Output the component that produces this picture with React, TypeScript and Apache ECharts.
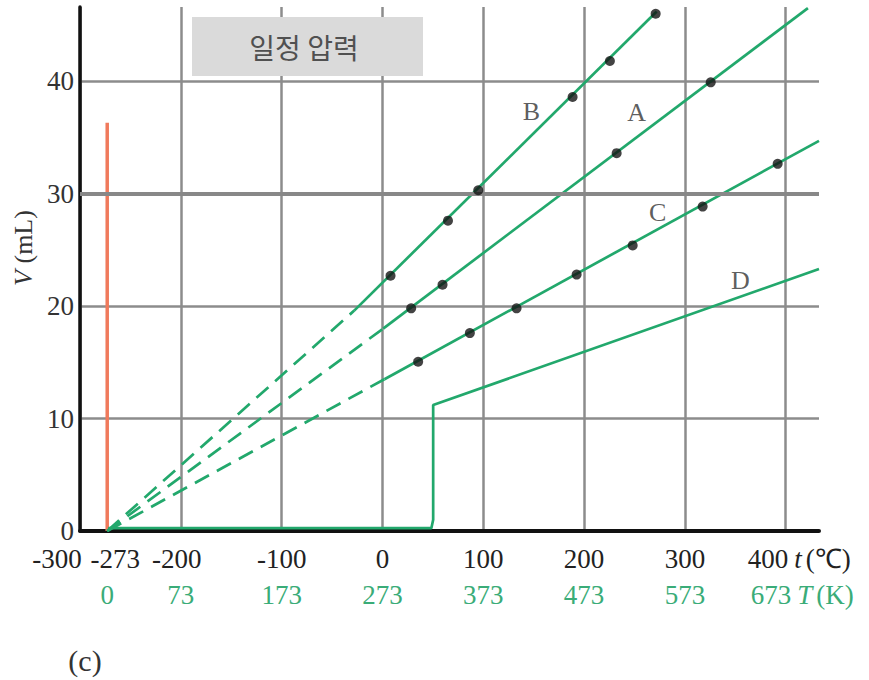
import React, { useEffect, useRef } from "react";
import * as echarts from "echarts";

// Axis ticks / labels
const X_LABEL_VALUES = [-273, -200, -100, 0, 100, 200, 300, 400];
const X_MIN_LABEL = [-300];
const K_LABEL_VALUES = [-273, -200, -100, 0, 100, 200, 300, 400];
const Y_LABEL_VALUES = [0, 10, 20, 30, 40];
const X_MIN = -300;
const X_MAX = 433;
const Y_MIN = 0;
const Y_MAX = 46.6;

// Absolute zero marker (°C, mL)
const ABS_ZERO_LINE = [[-273, 0], [-273, 36.3]];

// Gas B
const B_DASH = [[-273, 0], [-28, 19.6]];
const B_SOLID = [[-28, 19.6], [272, 46.2]];
const B_DOTS = [[8, 22.7], [65, 27.6], [95, 30.3], [188.6, 38.6], [225.6, 41.8], [271, 46.0]];

// Gas A
const A_DASH = [[-273, 0], [0.7, 18.0]];
const A_SOLID = [[0.7, 18.0], [422, 46.5]];
const A_DOTS = [[28.5, 19.8], [59.6, 21.9], [232.3, 33.6], [325.6, 39.9]];

// Gas C
const C_DASH = [[-273, 0], [2, 13.5]];
const C_SOLID = [[2, 13.5], [433, 34.7]];
const C_DOTS = [[35.4, 15.05], [86.7, 17.6], [133, 19.8], [192.6, 22.8], [248.2, 25.4], [317.6, 28.85], [392, 32.65]];

// Substance D (condensed, then gas)
const D_LINE = [[-272, 0.25], [48.5, 0.25], [50.3, 1.0], [50.3, 11.2], [433, 23.3]];

// Curve labels
const CURVE_LABELS = [[147.7, 37.3, "B"], [252, 37.2, "A"], [273, 28.3, "C"], [355, 22.3, "D"]];

const GREEN = "#22a86c";
const LABEL_GREEN = "#3aac78";
const SERIF = "'Liberation Serif', 'Times New Roman', serif";

export default function App() {
  const ref = useRef<HTMLDivElement>(null);

  useEffect(() => {
    if (!ref.current) return;
    const chart = echarts.init(ref.current, undefined, { renderer: "svg" });

    const tok = (c: string) => ({ fontFamily: SERIF, fontSize: 27, color: c });
    const pads: Record<string, any> = {};
    [4, 6, 8, 16, 27, 33, 46].forEach((w) => {
      pads["p" + w] = { width: w, fontSize: 10 };
    });

    const greenLine = (data: number[][], dashed: boolean) => ({
      type: "line",
      data,
      symbol: "none",
      z: 3,
      lineStyle: { color: GREEN, width: 2.7, type: dashed ? [16, 9] : "solid" },
    });

    const dots = (data: number[][]) => ({
      type: "scatter",
      data,
      symbol: "circle",
      symbolSize: 10,
      z: 5,
      itemStyle: { color: "#141414" },
    });

    const labelAxisBase = {
      type: "value",
      min: X_MIN,
      max: X_MAX,
      interval: 100,
      position: "bottom",
      axisLine: { show: false },
      axisTick: { show: false },
      splitLine: { show: false },
    };

    chart.setOption({
      animation: false,
      grid: { left: 80, right: 50, top: 7, bottom: 149, containLabel: false, outerBoundsMode: "none" },
      xAxis: [
        {
          type: "value",
          min: X_MIN,
          max: X_MAX,
          interval: 100,
          position: "bottom",
          axisLine: { show: true, onZero: false, lineStyle: { color: "#111", width: 4 } },
          axisTick: { show: false },
          splitLine: { show: true, showMaxLine: false, lineStyle: { color: "#8c8c8c", width: 2.5 } },
          axisLabel: {
            customValues: X_LABEL_VALUES,
            showMinLabel: true,
            showMaxLabel: true,
            hideOverlap: false,
            margin: 14,
            formatter: (v: number) => {
              if (v === -273) return "{p16| }{n|-273}";
              if (v === -200) return "{n|-200}{p8| }";
              if (v === 400) return "{p27| }{n|400}{p6| }{it|t}{p4| }{n|(℃)}";
              return "{n|" + v + "}";
            },
            rich: {
              n: tok("#222"),
              it: { ...tok("#222"), fontStyle: "italic" },
              ...pads,
            },
          },
        },
        {
          ...labelAxisBase,
          axisLabel: {
            customValues: X_MIN_LABEL,
            showMinLabel: true,
            margin: 14,
            formatter: (v: number) => "{n|" + v + "}{p46| }",
            rich: { n: tok("#222"), ...pads },
          },
        },
        {
          ...labelAxisBase,
          offset: 36,
          axisLabel: {
            customValues: K_LABEL_VALUES,
            showMinLabel: true,
            showMaxLabel: true,
            hideOverlap: false,
            margin: 14,
            formatter: (v: number) => {
              const k = String(Math.round(v + 273));
              if (v === 400) return "{p33| }{g|" + k + "}{p6| }{gi|T}{p4| }{g|(K)}";
              return "{g|" + k + "}";
            },
            rich: {
              g: tok(LABEL_GREEN),
              gi: { ...tok(LABEL_GREEN), fontStyle: "italic" },
              ...pads,
            },
          },
        },
      ],
      yAxis: {
        type: "value",
        min: Y_MIN,
        max: Y_MAX,
        interval: 10,
        axisLine: { show: true, onZero: false, lineStyle: { color: "#111", width: 3.5 } },
        axisTick: { show: false },
        splitLine: { show: true, showMaxLine: false, lineStyle: { color: "#8c8c8c", width: 2.5 } },
        axisLabel: {
          customValues: Y_LABEL_VALUES,
          showMinLabel: true,
          fontFamily: SERIF,
          fontSize: 27,
          color: "#333",
          margin: 6,
        },
        name: "{i|V} (mL)",
        nameLocation: "middle",
        nameGap: 20,
        nameRotate: 90,
        nameTextStyle: {
          fontFamily: SERIF,
          fontSize: 26,
          color: "#333",
          padding: [0, 0, 0, 42],
          rich: { i: { fontFamily: SERIF, fontSize: 26, color: "#333", fontStyle: "italic" } },
        },
      },
      graphic: [
        {
          type: "rect",
          shape: { x: 192, y: 17, width: 231, height: 59 },
          style: { fill: "#dadada" },
          z: 10,
        },
        {
          type: "text",
          x: 304,
          y: 47,
          style: {
            text: "일정 압력",
            font: "28px 'Noto Sans CJK KR'",
            fill: "#505050",
            align: "center",
            verticalAlign: "middle",
          },
          z: 11,
        },
        {
          type: "text",
          x: 85,
          y: 660,
          style: {
            text: "(c)",
            font: "30px " + SERIF,
            fill: "#333",
            align: "center",
            verticalAlign: "middle",
          },
        },
      ],
      series: [
        {
          type: "line",
          data: [],
          z: 1,
          markLine: {
            silent: true,
            symbol: "none",
            label: { show: false },
            lineStyle: { color: "#888", width: 4, type: "solid" },
            data: [{ yAxis: 30 }],
          },
        },
        {
          type: "line",
          data: ABS_ZERO_LINE,
          symbol: "none",
          z: 2,
          lineStyle: { color: "#f07a5c", width: 3.5 },
        },
        greenLine(B_DASH, true),
        greenLine(B_SOLID, false),
        greenLine(A_DASH, true),
        greenLine(A_SOLID, false),
        greenLine(C_DASH, true),
        greenLine(C_SOLID, false),
        greenLine(D_LINE, false),
        dots(B_DOTS),
        dots(A_DOTS),
        dots(C_DOTS),
        {
          type: "scatter",
          data: CURVE_LABELS,
          symbolSize: 1,
          itemStyle: { color: "rgba(0,0,0,0)" },
          z: 6,
          label: {
            show: true,
            position: "inside",
            formatter: (p: any) => p.value[2],
            fontFamily: SERIF,
            fontSize: 26,
            color: "#333",
          },
        },
      ],
    });

    return () => chart.dispose();
  }, []);

  return (
    <div
      ref={ref}
      style={{ position: "fixed", left: 0, top: 0, width: 869, height: 680, background: "#fff" }}
    />
  );
}
